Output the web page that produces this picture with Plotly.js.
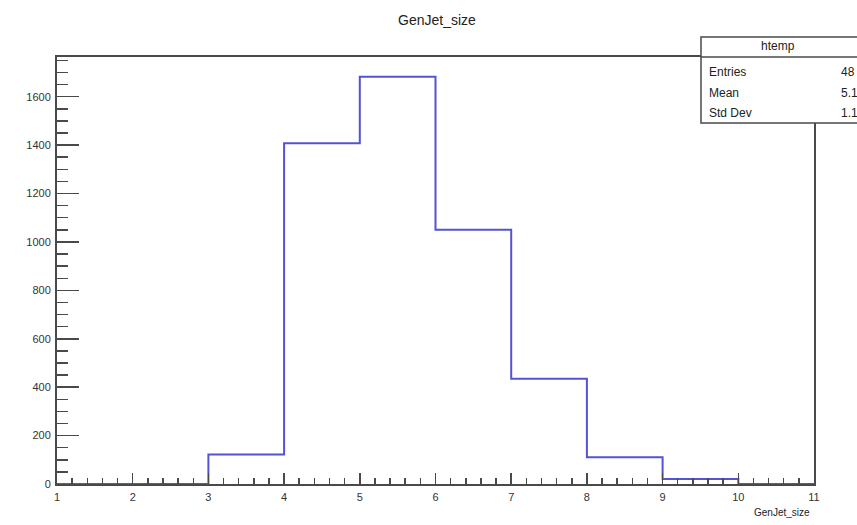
<!DOCTYPE html>
<html>
<head>
<meta charset="utf-8">
<script src="https://cdn.plot.ly/plotly-3.0.1.min.js"></script>
<style>
html,body{margin:0;padding:0;background:#fff;}
#plot{width:857px;height:525px;}
</style>
</head>
<body>
<div id="plot"></div>
<script>
// Histogram data (GenJet_size, bin width 1)
const binEdges = [1, 2, 3, 4, 5, 6, 7, 8, 9, 10, 11];
const counts   = [0, 0, 122, 1408, 1682, 1050, 435, 111, 21, 0];
const statsLabels = ["Entries", "Mean", "Std Dev"];
const statsValues = ["48", "5.1", "1.1"];
const histName = "htemp";
const chartTitle = "GenJet_size";
const xTitle = "GenJet_size";

// step outline: one point per bin edge, last count repeated
const xs = binEdges.slice();
const ys = counts.concat([counts[counts.length - 1]]);

// pixel helpers for the stats box (plot area: x 57..814, y 57..484)
const L = 57, R = 814, T = 57, B = 484;
const px = v => (v - L) / (R - L);
const py = v => (B - v) / (B - T);

const font = "Liberation Sans, Arial, Helvetica, sans-serif";
const frameColor = "#4a4a4a";

const shapes = [
  {type: "rect", xref: "paper", yref: "paper",
   x0: px(701), x1: px(900), y0: py(123), y1: py(37),
   line: {color: frameColor, width: 1.5}, fillcolor: "#ffffff", layer: "above"},
  {type: "line", xref: "paper", yref: "paper",
   x0: px(701), x1: px(900), y0: py(57), y1: py(57),
   line: {color: frameColor, width: 1.5}, layer: "above"}
];

const rowY = [72, 93, 113];
const annotations = [
  {text: chartTitle, xref: "paper", yref: "paper", x: px(437), y: py(20),
   showarrow: false, font: {family: font, size: 14, color: "#222"}, xanchor: "center", yanchor: "middle"},
  {text: histName, xref: "paper", yref: "paper", x: px(778), y: py(46),
   showarrow: false, font: {family: font, size: 12, color: "#222"}, xanchor: "center", yanchor: "middle"}
];
statsLabels.forEach((lab, i) => {
  annotations.push({text: lab, xref: "paper", yref: "paper", x: px(707), y: py(rowY[i]),
    showarrow: false, font: {family: font, size: 12, color: "#222"}, xanchor: "left", yanchor: "middle"});
  annotations.push({text: statsValues[i], xref: "paper", yref: "paper", x: px(839), y: py(rowY[i]),
    showarrow: false, font: {family: font, size: 12, color: "#222"}, xanchor: "left", yanchor: "middle"});
});
annotations.push({text: xTitle, xref: "paper", yref: "paper", x: px(812), y: py(512),
  showarrow: false, font: {family: font, size: 10, color: "#222"}, xanchor: "right", yanchor: "middle"});

const trace = {
  x: xs, y: ys, type: "scatter", mode: "lines",
  line: {shape: "hv", color: "#5353d4", width: 2},
  hoverinfo: "skip", showlegend: false, cliponaxis: true
};

const layout = {
  width: 857, height: 525,
  margin: {l: L, r: 857 - R, t: T, b: 525 - B, pad: 0},
  paper_bgcolor: "#ffffff", plot_bgcolor: "#ffffff",
  showlegend: false,
  xaxis: {
    range: [1, 11], dtick: 1, tick0: 1,
    ticks: "inside", ticklen: 11, tickwidth: 1.5, tickcolor: frameColor,
    minor: {dtick: 0.2, ticks: "inside", ticklen: 6, tickwidth: 1.5, tickcolor: frameColor, showgrid: false},
    showline: true, linecolor: frameColor, linewidth: 2, mirror: true,
    showgrid: false, zeroline: false, ticklabelstandoff: 2,
    tickfont: {family: font, size: 11, color: "#333"}, fixedrange: true
  },
  yaxis: {
    range: [0, 1764], dtick: 200, tick0: 0,
    ticks: "inside", ticklen: 22, tickwidth: 1.5, tickcolor: frameColor,
    minor: {dtick: 50, ticks: "inside", ticklen: 11, tickwidth: 1.5, tickcolor: frameColor, showgrid: false},
    showline: true, linecolor: frameColor, linewidth: 2, mirror: true,
    showgrid: false, zeroline: false, ticklabelstandoff: 2,
    tickfont: {family: font, size: 11, color: "#333"}, fixedrange: true
  },
  shapes: shapes,
  annotations: annotations
};

Plotly.newPlot("plot", [trace], layout, {displayModeBar: false, staticPlot: true});
</script>
</body>
</html>
